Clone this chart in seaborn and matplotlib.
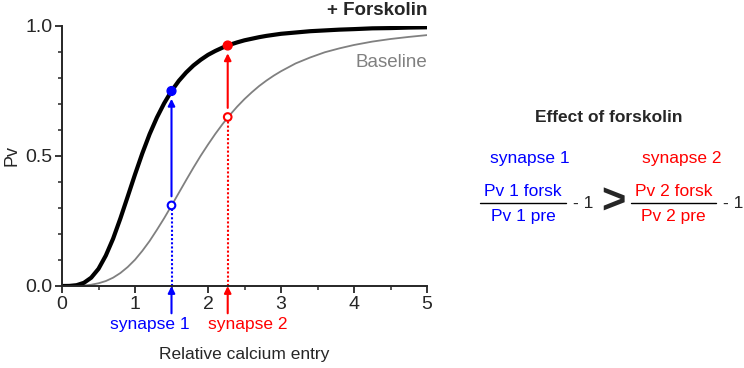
import matplotlib
matplotlib.use("Agg")
import matplotlib.pyplot as plt
from matplotlib.ticker import MultipleLocator
import pandas as pd
import seaborn as sns

# values
calcium = [0.0, 0.1, 0.2, 0.3, 0.4, 0.5, 0.6, 0.7, 0.8, 0.9, 1.0, 1.1, 1.2, 1.3,
           1.4, 1.5, 1.6, 1.7, 1.8, 1.9, 2.0, 2.1, 2.2, 2.3, 2.4, 2.5, 2.6, 2.7,
           2.8, 2.9, 3.0, 3.2, 3.4, 3.6, 3.8, 4.0, 4.25, 4.5, 4.75, 5.0]
pv_forskolin = [0.0, 0.0003, 0.0031, 0.0122, 0.032, 0.066, 0.117, 0.182, 0.260,
                0.344, 0.429, 0.510, 0.584, 0.648, 0.703, 0.750, 0.789, 0.821,
                0.848, 0.870, 0.889, 0.904, 0.917, 0.928, 0.937, 0.945, 0.951,
                0.957, 0.962, 0.966, 0.970, 0.975, 0.980, 0.983, 0.986, 0.988,
                0.991, 0.992, 0.994, 0.995]
pv_baseline = [0.0, 0.0, 0.0005, 0.0018, 0.0049, 0.0105, 0.019, 0.032, 0.050,
               0.073, 0.101, 0.135, 0.173, 0.216, 0.261, 0.309, 0.358, 0.407,
               0.455, 0.501, 0.544, 0.585, 0.623, 0.658, 0.690, 0.719, 0.745,
               0.769, 0.790, 0.809, 0.826, 0.856, 0.879, 0.899, 0.914, 0.927,
               0.940, 0.950, 0.958, 0.965]

synapse_names = ["synapse 1", "synapse 2"]
synapse_x = [1.5, 2.27]
synapse_pre = [0.31, 0.65]
synapse_forsk = [0.75, 0.925]
synapse_colors = ["#0000ff", "#ff0000"]

sns.set_style("ticks")
plt.rcParams["font.family"] = ["Liberation Sans", "DejaVu Sans"]

curves = pd.DataFrame({"x": calcium, "forsk": pv_forskolin, "base": pv_baseline})

fig = plt.figure(figsize=(7.44, 3.68), dpi=100)
ax = fig.add_axes([62 / 744, 82 / 368, 365 / 744, 260 / 368])

sns.lineplot(data=curves, x="x", y="base", ax=ax, color="#808080", linewidth=1.3)
sns.lineplot(data=curves, x="x", y="forsk", ax=ax, color="black", linewidth=3)

for name, sx, pre, forsk, col, tx in zip(synapse_names, synapse_x, synapse_pre,
                                         synapse_forsk, synapse_colors, [1.2, 2.55]):
    # dotted drop line from axis to baseline point
    ax.plot([sx, sx], [0, pre - 0.015], color=col, linestyle=(0, (1, 1)),
            linewidth=1.5, clip_on=False)
    # arrow from baseline to forskolin
    ax.annotate("", xy=(sx, forsk - 0.03), xytext=(sx, pre + 0.035),
                arrowprops=dict(arrowstyle="-|>", color=col, lw=1.5,
                                mutation_scale=10, shrinkA=0, shrinkB=0))
    # arrow from label up to axis
    ax.annotate("", xy=(sx, 0), xytext=(sx, -0.105),
                arrowprops=dict(arrowstyle="-|>", color=col, lw=1.5,
                                mutation_scale=10, shrinkA=0, shrinkB=0),
                annotation_clip=False)
    ax.text(tx, -0.15, name, color=col, ha="center", va="center", fontsize=12.5,
            clip_on=False)

sns.scatterplot(x=synapse_x, y=synapse_forsk, hue=synapse_names,
                palette=synapse_colors, s=40, edgecolor=synapse_colors,
                linewidth=1, ax=ax, legend=False, zorder=5, clip_on=False)
sns.scatterplot(x=synapse_x, y=synapse_pre, s=30, color="white",
                edgecolor=synapse_colors, linewidth=1.5, ax=ax, legend=False,
                zorder=5)

ax.text(5, 1.06, "+ Forskolin", ha="right", va="center", fontsize=13.5,
        fontweight="bold")
ax.text(5, 0.86, "Baseline", ha="right", va="center", fontsize=13.5,
        color="#808080")

ax.set_xlim(0, 5)
ax.set_ylim(0, 1)
ax.xaxis.set_major_locator(MultipleLocator(1))
ax.xaxis.set_minor_locator(MultipleLocator(0.5))
ax.yaxis.set_major_locator(MultipleLocator(0.5))
ax.yaxis.set_minor_locator(MultipleLocator(0.1))
ax.yaxis.set_major_formatter(plt.FormatStrFormatter("%.1f"))
ax.tick_params(which="major", length=5, width=1.3, labelsize=14, pad=2)
ax.tick_params(which="minor", length=3, width=1.1)
for side in ["left", "bottom"]:
    ax.spines[side].set_linewidth(1.4)
sns.despine(ax=ax)
ax.set_xlabel("Relative calcium entry", fontsize=12.5, labelpad=25)
ax.set_ylabel("Pv", fontsize=13, labelpad=3)

# right-hand equation panel
def fx(px):
    return px / 744


def fy(py):
    return 1 - py / 368


fig.text(fx(609), fy(118), "Effect of forskolin", ha="center", va="center",
         fontsize=12.5, fontweight="bold")
fig.text(fx(530), fy(158), "synapse 1", ha="center", va="center", fontsize=12.5,
         color="#0000ff")
fig.text(fx(682), fy(158), "synapse 2", ha="center", va="center", fontsize=12.5,
         color="#ff0000")
for num, col, x0, x1 in [("1", "#0000ff", 480, 566), ("2", "#ff0000", 631, 716)]:
    cx = (x0 + x1) / 2
    fig.text(fx(cx), fy(192), f"Pv {num} forsk", ha="center", va="center",
             fontsize=12.5, color=col)
    fig.text(fx(cx), fy(217), f"Pv {num} pre", ha="center", va="center",
             fontsize=12.5, color=col)
    fig.add_artist(plt.Line2D([fx(x0), fx(x1)], [fy(203), fy(203)],
                              color="black", linewidth=1, transform=fig.transFigure))
    fig.text(fx(x1 + 7), fy(204), "- 1", ha="left", va="center", fontsize=12.5)
fig.text(fx(613), fy(203), ">", ha="center", va="center", fontsize=30,
         fontweight="bold")

fig.savefig("out.png", dpi=100)
